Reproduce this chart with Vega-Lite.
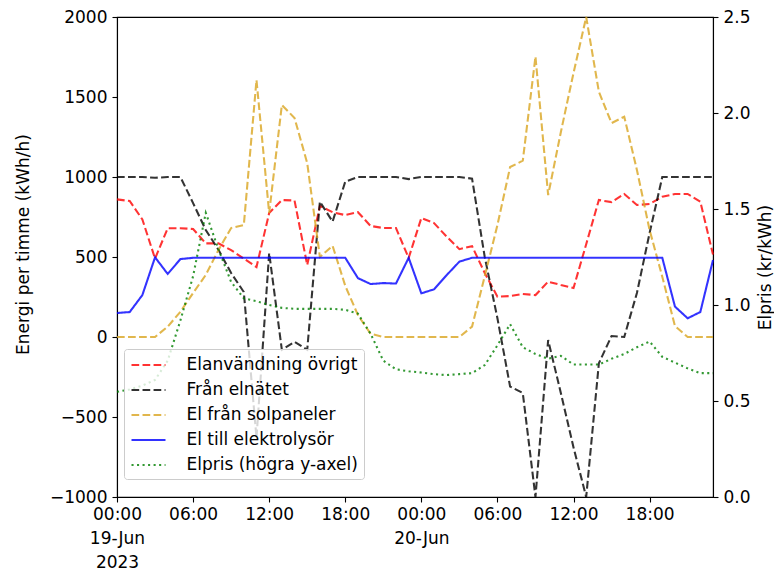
{
  "$schema": "https://vega.github.io/schema/vega-lite/v6.json",
  "width": 596,
  "height": 480,
  "autosize": {"type": "none"},
  "padding": {"left": 117, "top": 17, "right": 61, "bottom": 73},
  "background": "white",
  "config": {
    "font": "DejaVu Sans",
    "view": {"stroke": "black", "strokeWidth": 1.1},
    "axis": {
      "grid": false, "domainColor": "black", "domainWidth": 1.1,
      "tickColor": "black", "tickWidth": 1.1, "tickSize": 5, "labelPadding": 5,
      "labelFontSize": 17, "labelColor": "black", "labelFont": "DejaVu Sans",
      "titleFontSize": 17, "titleFontWeight": "normal", "titleColor": "black", "titleFont": "DejaVu Sans"
    }
  },
  "data": {"values": [
    {"t": "2023-06-19T00:00:00Z", "ovrigt": 860, "natet": 1000, "sol": 0, "elektrolys": 150, "elpris": 0.548},
    {"t": "2023-06-19T01:00:00Z", "ovrigt": 850, "natet": 1000, "sol": 0, "elektrolys": 156, "elpris": 0.56},
    {"t": "2023-06-19T02:00:00Z", "ovrigt": 735, "natet": 1000, "sol": 0, "elektrolys": 262, "elpris": 0.58},
    {"t": "2023-06-19T03:00:00Z", "ovrigt": 490, "natet": 995, "sol": 0, "elektrolys": 498, "elpris": 0.61},
    {"t": "2023-06-19T04:00:00Z", "ovrigt": 680, "natet": 1000, "sol": 65, "elektrolys": 394, "elpris": 0.71},
    {"t": "2023-06-19T05:00:00Z", "ovrigt": 680, "natet": 1000, "sol": 158, "elektrolys": 487, "elpris": 0.92},
    {"t": "2023-06-19T06:00:00Z", "ovrigt": 675, "natet": 837, "sol": 275, "elektrolys": 495, "elpris": 1.15},
    {"t": "2023-06-19T07:00:00Z", "ovrigt": 585, "natet": 669, "sol": 388, "elektrolys": 495, "elpris": 1.48},
    {"t": "2023-06-19T08:00:00Z", "ovrigt": 585, "natet": 545, "sol": 544, "elektrolys": 495, "elpris": 1.29},
    {"t": "2023-06-19T09:00:00Z", "ovrigt": 543, "natet": 400, "sol": 681, "elektrolys": 495, "elpris": 1.12},
    {"t": "2023-06-19T10:00:00Z", "ovrigt": 490, "natet": 281, "sol": 700, "elektrolys": 495, "elpris": 1.035},
    {"t": "2023-06-19T11:00:00Z", "ovrigt": 437, "natet": -630, "sol": 1606, "elektrolys": 495, "elpris": 1.02},
    {"t": "2023-06-19T12:00:00Z", "ovrigt": 775, "natet": 525, "sol": 775, "elektrolys": 495, "elpris": 1.0},
    {"t": "2023-06-19T13:00:00Z", "ovrigt": 856, "natet": -80, "sol": 1450, "elektrolys": 495, "elpris": 0.985},
    {"t": "2023-06-19T14:00:00Z", "ovrigt": 853, "natet": -30, "sol": 1369, "elektrolys": 495, "elpris": 0.98},
    {"t": "2023-06-19T15:00:00Z", "ovrigt": 450, "natet": -80, "sol": 1087, "elektrolys": 495, "elpris": 0.98},
    {"t": "2023-06-19T16:00:00Z", "ovrigt": 819, "natet": 846, "sol": 500, "elektrolys": 495, "elpris": 0.98},
    {"t": "2023-06-19T17:00:00Z", "ovrigt": 780, "natet": 721, "sol": 570, "elektrolys": 495, "elpris": 0.98},
    {"t": "2023-06-19T18:00:00Z", "ovrigt": 762, "natet": 971, "sol": 320, "elektrolys": 495, "elpris": 0.975},
    {"t": "2023-06-19T19:00:00Z", "ovrigt": 780, "natet": 1000, "sol": 137, "elektrolys": 368, "elpris": 0.955},
    {"t": "2023-06-19T20:00:00Z", "ovrigt": 694, "natet": 1000, "sol": 20, "elektrolys": 331, "elpris": 0.85},
    {"t": "2023-06-19T21:00:00Z", "ovrigt": 681, "natet": 1000, "sol": 0, "elektrolys": 337, "elpris": 0.71},
    {"t": "2023-06-19T22:00:00Z", "ovrigt": 681, "natet": 1000, "sol": 0, "elektrolys": 334, "elpris": 0.665},
    {"t": "2023-06-19T23:00:00Z", "ovrigt": 494, "natet": 987, "sol": 0, "elektrolys": 495, "elpris": 0.655},
    {"t": "2023-06-20T00:00:00Z", "ovrigt": 744, "natet": 1000, "sol": 0, "elektrolys": 273, "elpris": 0.648},
    {"t": "2023-06-20T01:00:00Z", "ovrigt": 712, "natet": 1000, "sol": 0, "elektrolys": 298, "elpris": 0.64},
    {"t": "2023-06-20T02:00:00Z", "ovrigt": 627, "natet": 1000, "sol": 0, "elektrolys": 387, "elpris": 0.635},
    {"t": "2023-06-20T03:00:00Z", "ovrigt": 549, "natet": 1000, "sol": 0, "elektrolys": 471, "elpris": 0.64},
    {"t": "2023-06-20T04:00:00Z", "ovrigt": 568, "natet": 990, "sol": 65, "elektrolys": 495, "elpris": 0.645},
    {"t": "2023-06-20T05:00:00Z", "ovrigt": 400, "natet": 500, "sol": 380, "elektrolys": 495, "elpris": 0.687},
    {"t": "2023-06-20T06:00:00Z", "ovrigt": 252, "natet": 117, "sol": 700, "elektrolys": 495, "elpris": 0.79},
    {"t": "2023-06-20T07:00:00Z", "ovrigt": 256, "natet": -310, "sol": 1062, "elektrolys": 495, "elpris": 0.90},
    {"t": "2023-06-20T08:00:00Z", "ovrigt": 269, "natet": -350, "sol": 1102, "elektrolys": 495, "elpris": 0.78},
    {"t": "2023-06-20T09:00:00Z", "ovrigt": 262, "natet": -1000, "sol": 1752, "elektrolys": 495, "elpris": 0.745},
    {"t": "2023-06-20T10:00:00Z", "ovrigt": 346, "natet": -19, "sol": 887, "elektrolys": 495, "elpris": 0.72},
    {"t": "2023-06-20T11:00:00Z", "ovrigt": 325, "natet": -350, "sol": 1280, "elektrolys": 495, "elpris": 0.735},
    {"t": "2023-06-20T12:00:00Z", "ovrigt": 306, "natet": -690, "sol": 1650, "elektrolys": 495, "elpris": 0.69},
    {"t": "2023-06-20T13:00:00Z", "ovrigt": 580, "natet": -1000, "sol": 2000, "elektrolys": 495, "elpris": 0.69},
    {"t": "2023-06-20T14:00:00Z", "ovrigt": 856, "natet": -164, "sol": 1533, "elektrolys": 495, "elpris": 0.69},
    {"t": "2023-06-20T15:00:00Z", "ovrigt": 843, "natet": 6, "sol": 1337, "elektrolys": 495, "elpris": 0.72},
    {"t": "2023-06-20T16:00:00Z", "ovrigt": 894, "natet": 0, "sol": 1377, "elektrolys": 495, "elpris": 0.745},
    {"t": "2023-06-20T17:00:00Z", "ovrigt": 825, "natet": 275, "sol": 1044, "elektrolys": 495, "elpris": 0.78},
    {"t": "2023-06-20T18:00:00Z", "ovrigt": 831, "natet": 650, "sol": 669, "elektrolys": 495, "elpris": 0.81},
    {"t": "2023-06-20T19:00:00Z", "ovrigt": 877, "natet": 1000, "sol": 377, "elektrolys": 495, "elpris": 0.73},
    {"t": "2023-06-20T20:00:00Z", "ovrigt": 894, "natet": 1000, "sol": 69, "elektrolys": 190, "elpris": 0.70},
    {"t": "2023-06-20T21:00:00Z", "ovrigt": 894, "natet": 1000, "sol": 0, "elektrolys": 117, "elpris": 0.67},
    {"t": "2023-06-20T22:00:00Z", "ovrigt": 846, "natet": 1000, "sol": 0, "elektrolys": 156, "elpris": 0.645},
    {"t": "2023-06-20T23:00:00Z", "ovrigt": 515, "natet": 1000, "sol": 0, "elektrolys": 481, "elpris": 0.645}
  ]},
  "layer": [
    {
      "transform": [{"fold": ["ovrigt", "natet", "sol", "elektrolys"], "as": ["serie", "v"]}],
      "mark": {"type": "line", "strokeWidth": 2.08, "opacity": 0.8},
      "encoding": {
        "x": {
          "field": "t", "type": "temporal",
          "scale": {"type": "utc", "domain": [1687132800000, 1687302000000]},
          "axis": {
            "title": null,
            "values": [1687132800000, 1687154400000, 1687176000000, 1687197600000, 1687219200000, 1687240800000, 1687262400000, 1687284000000],
            "labelExpr": "utchours(datum.value) == 0 ? (utcdate(datum.value) == 19 ? [utcFormat(datum.value, '%H:%M'), utcFormat(datum.value, '%d-%b'), utcFormat(datum.value, '%Y')] : [utcFormat(datum.value, '%H:%M'), utcFormat(datum.value, '%d-%b')]) : utcFormat(datum.value, '%H:%M')",
            "labelLineHeight": 24, "labelBaseline": "top", "labelAlign": "center",
            "labelFlush": false, "labelOverlap": false, "labelPadding": 4
          }
        },
        "y": {
          "field": "v", "type": "quantitative",
          "scale": {"domain": [-1000, 2000], "nice": false, "zero": false},
          "axis": {
            "title": "Energi per timme (kWh/h)",
            "values": [-1000, -500, 0, 500, 1000, 1500, 2000], "format": "d",
            "titleAngle": 270, "titleX": -94, "titleY": 227, "titleBaseline": "middle", "titleAlign": "center"
          }
        },
        "color": {
          "field": "serie", "type": "nominal",
          "scale": {"domain": ["ovrigt", "natet", "sol", "elektrolys", "elpris"], "range": ["#ff0000", "#000000", "#daa520", "#0000ff", "#008000"]},
          "legend": {
            "orient": "none", "legendX": 7, "legendY": 332, "title": null,
            "symbolType": "M-2,0H2", "symbolSize": 289, "symbolStrokeWidth": 2.08, "symbolOpacity": 0.8, "symbolOffset": 8.5,
            "labelFontSize": 17, "labelColor": "black", "labelLimit": 400, "labelOffset": 28,
            "rowPadding": 7, "padding": 6, "fillColor": "rgba(255,255,255,0.8)", "strokeColor": "#cccccc", "cornerRadius": 3,
            "labelExpr": "datum.label == 'ovrigt' ? 'Elanvändning övrigt' : datum.label == 'natet' ? 'Från elnätet' : datum.label == 'sol' ? 'El från solpaneler' : datum.label == 'elektrolys' ? 'El till elektrolysör' : 'Elpris (högra y-axel)'"
          }
        },
        "strokeDash": {
          "field": "serie", "type": "nominal",
          "scale": {"domain": ["ovrigt", "natet", "sol", "elektrolys", "elpris"], "range": [[7.7, 3.33], [7.7, 3.33], [7.7, 3.33], [1, 0], [2.08, 3.44]]},
          "legend": {
            "orient": "none", "legendX": 7, "legendY": 332, "title": null,
            "symbolType": "M-2,0H2", "symbolSize": 289, "symbolStrokeWidth": 2.08, "symbolOpacity": 0.8, "symbolOffset": 8.5,
            "labelFontSize": 17, "labelColor": "black", "labelLimit": 400, "labelOffset": 28,
            "rowPadding": 7, "padding": 6, "fillColor": "rgba(255,255,255,0.8)", "strokeColor": "#cccccc", "cornerRadius": 3,
            "labelExpr": "datum.label == 'ovrigt' ? 'Elanvändning övrigt' : datum.label == 'natet' ? 'Från elnätet' : datum.label == 'sol' ? 'El från solpaneler' : datum.label == 'elektrolys' ? 'El till elektrolysör' : 'Elpris (högra y-axel)'"
          }
        }
      }
    },
    {
      "mark": {"type": "line", "strokeWidth": 2.08, "opacity": 0.8},
      "encoding": {
        "x": {"field": "t", "type": "temporal", "scale": {"type": "utc", "domain": [1687132800000, 1687302000000]}},
        "y": {
          "field": "elpris", "type": "quantitative",
          "scale": {"domain": [0, 2.5], "nice": false},
          "axis": {
            "orient": "right", "title": "Elpris (kr/kWh)",
            "values": [0, 0.5, 1, 1.5, 2, 2.5], "format": ".1f",
            "titleAngle": 270, "titleX": 52, "titleY": 250, "titleBaseline": "middle", "titleAlign": "center"
          }
        },
        "color": {"datum": "elpris"},
        "strokeDash": {"datum": "elpris"}
      }
    }
  ],
  "resolve": {"scale": {"y": "independent"}}
}
